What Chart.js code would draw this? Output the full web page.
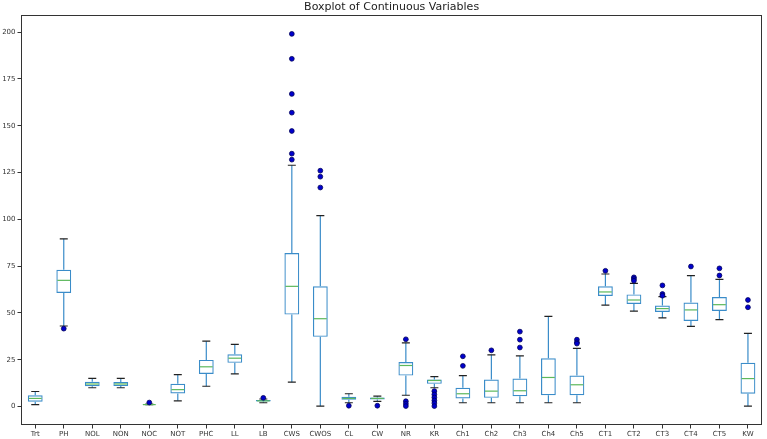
<!DOCTYPE html>
<html>
<head>
<meta charset="utf-8">
<script src="https://cdn.jsdelivr.net/npm/chart.js@4.4.1/dist/chart.umd.min.js"></script>
<style>
  html, body { margin: 0; padding: 0; background: #fff; }
  #wrap { width: 767px; height: 439px; }
</style>
</head>
<body>
<div id="wrap"><canvas id="box"></canvas></div>
<script>
// --- data ---
const labels = ['Trt','PH','NOL','NON','NOC','NOT','PHC','LL','LB','CWS','CWOS','CL','CW','NR','KR',
                'Ch1','Ch2','Ch3','Ch4','Ch5','CT1','CT2','CT3','CT4','CT5','KW'];
const whiskLo = [1, 43, 10, 10, 1, 3, 10.8, 17.4, 2, 13, 0.2, 2, 2.7, 6, 10,
                 2, 2, 2, 2, 2, 54.2, 51, 47.3, 42.8, 46.4, 0.2];
const q1 = [2.5, 60.6, 10.8, 10.9, 1, 6.9, 17.4, 23.3, 2.6, 49.1, 37.2, 3.6, 3.7, 16.5, 12.1,
            4.3, 4.6, 5.5, 6, 6, 59, 54.8, 50.5, 45.7, 51, 6.8];
const median = [4.3, 67.4, 12, 12, 1, 9, 21.2, 25.8, 3, 64.2, 46.9, 4.3, 4.3, 21.9, 13.9,
                6.8, 8.2, 8.4, 15.5, 11.6, 61.2, 56.9, 52.3, 51.6, 54.4, 14.9];
const q3 = [6, 73, 13.2, 13.1, 1.2, 12.1, 24.9, 27.9, 3.4, 82, 64.2, 5.2, 4.8, 23.8, 14.4,
            10, 14.4, 14.9, 25.8, 16.5, 64.2, 59.9, 53.9, 55.5, 58.5, 23.3];
const whiskHi = [8, 89.6, 15, 15, 1.3, 17, 34.9, 33.2, 4, 128.9, 102, 6.8, 5.5, 34, 16,
                 16.5, 27.6, 27, 48.2, 31.1, 70.8, 65.8, 58.7, 69.9, 67.9, 39.1];
const outliers = [
  [], [41.6], [], [], [2.1], [], [], [], [4.6],
  [199.1, 185.8, 167, 157, 147.2, 135.1, 131.9],
  [126, 122.8, 117],
  [0.4], [0.4],
  [35.9, 2.8, 1.4, 0.2],
  [8.2, 6.4, 4.8, 3.2, 1.8, 0.2],
  [26.8, 21.7], [30], [40, 35.7, 31.5], [], [35.7, 34.3, 33.6],
  [72.5], [69, 68.1, 67.2], [64.7, 60.1, 59.2], [74.8], [73.8, 70], [56.9, 53]
];
const yTicks = [0, 25, 50, 75, 100, 125, 150, 175, 200];
const titleText = 'Boxplot of Continuous Variables';

const BOX = '#3a8cc9';
const MED = '#5cb85c';
const INK = '#333';

// outlier points as {x: label, y: value}
const flierPts = [];
outliers.forEach((arr, i) => arr.forEach(v => flierPts.push({ x: labels[i], y: v })));

// whiskers, caps, medians, frame, title over the axes
const boxParts = {
  id: 'boxParts',
  afterDatasetDraw(chart, args) {
    if (args.index !== 0) return;
    const ctx = chart.ctx;
    const ys = chart.scales.y;
    const meta = chart.getDatasetMeta(0);
    ctx.save();
    labels.forEach((l, i) => {
      const bar = meta.data[i];
      const cx = bar.x;
      const w = bar.width;
      const cap = w * 0.27;
      const yLo = ys.getPixelForValue(whiskLo[i]);
      const yHi = ys.getPixelForValue(whiskHi[i]);
      const yQ1 = ys.getPixelForValue(q1[i]);
      const yQ3 = ys.getPixelForValue(q3[i]);
      const yMed = ys.getPixelForValue(median[i]);
      ctx.lineWidth = 1.2;
      ctx.strokeStyle = BOX;
      ctx.beginPath();
      ctx.moveTo(cx, yQ3); ctx.lineTo(cx, yHi);
      ctx.moveTo(cx, yQ1); ctx.lineTo(cx, yLo);
      ctx.stroke();
      ctx.strokeStyle = '#222';
      ctx.beginPath();
      ctx.moveTo(cx - cap, yHi); ctx.lineTo(cx + cap, yHi);
      ctx.moveTo(cx - cap, yLo); ctx.lineTo(cx + cap, yLo);
      ctx.stroke();
      ctx.strokeStyle = MED;
      ctx.beginPath();
      ctx.moveTo(cx - w / 2 + 1, yMed); ctx.lineTo(cx + w / 2 - 1, yMed);
      ctx.stroke();
    });
    ctx.restore();
  },
  afterDraw(chart) {
    const a = chart.chartArea;
    const ctx = chart.ctx;
    ctx.save();
    ctx.strokeStyle = INK;
    ctx.lineWidth = 1;
    ctx.strokeRect(Math.round(a.left) + 0.5, Math.round(a.top) + 0.5,
                   Math.round(a.right - a.left) - 1, Math.round(a.bottom - a.top) - 1);
    // title centred on the axes like matplotlib
    ctx.fillStyle = '#222';
    ctx.font = '11px "DejaVu Sans"';
    ctx.textAlign = 'center';
    ctx.textBaseline = 'middle';
    ctx.fillText(titleText, (a.left + a.right) / 2, 7.5);
    ctx.restore();
  }
};

new Chart(document.getElementById('box'), {
  type: 'bar',
  data: {
    labels: labels,
    datasets: [
      {
        data: labels.map((l, i) => [q1[i], q3[i]]),
        backgroundColor: 'rgba(0,0,0,0)',
        borderColor: BOX,
        borderWidth: 1.2,
        borderSkipped: false,
        barPercentage: 0.52,
        categoryPercentage: 1,
        order: 2
      },
      {
        type: 'line',
        data: flierPts,
        showLine: false,
        pointRadius: 2.4,
        pointBackgroundColor: '#0000cd',
        pointBorderColor: '#00005a',
        pointBorderWidth: 0.8,
        order: 1
      }
    ]
  },
  options: {
    responsive: true,
    maintainAspectRatio: false,
    animation: false,
    layout: { padding: { left: 0, right: 4, top: 15, bottom: 0 } },
    plugins: {
      legend: { display: false },
      tooltip: { enabled: false },
      title: { display: false }
    },
    scales: {
      x: {
        grid: { display: true, drawOnChartArea: false, drawTicks: true, tickLength: 3.5, color: INK, offset: false },
        border: { display: false },
        ticks: { color: '#333', font: { family: 'DejaVu Sans', size: 7 }, padding: 1, maxRotation: 0, autoSkip: false },
        afterFit: s => { s.height = 14; }
      },
      y: {
        min: -9.9,
        max: 209.2,
        grid: { display: true, drawOnChartArea: false, drawTicks: true, tickLength: 3.5, color: INK },
        border: { display: false },
        ticks: { color: '#333', font: { family: 'DejaVu Sans', size: 7 }, padding: 2 },
        afterBuildTicks: s => { s.ticks = yTicks.map(v => ({ value: v })); },
        afterFit: s => { s.width = 21; }
      }
    }
  },
  plugins: [boxParts]
});
</script>
</body>
</html>
